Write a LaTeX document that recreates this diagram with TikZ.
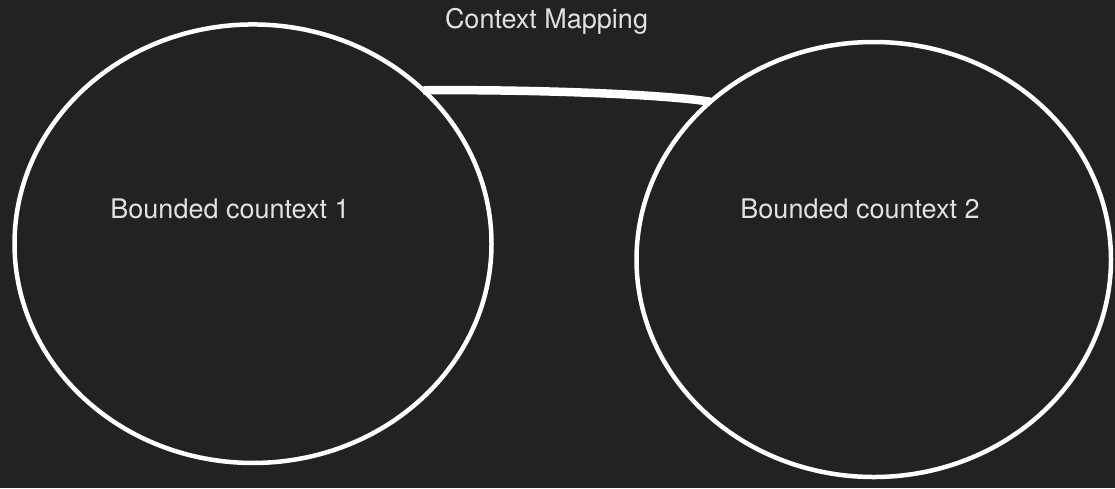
\documentclass[tikz,border=0pt]{standalone}
\usepackage{fontspec}
\setmainfont{TeX Gyre Heros}
\usetikzlibrary{shapes.geometric}
\definecolor{bg}{HTML}{222222}
\definecolor{txt}{HTML}{E2E2E2}
\tikzset{
  ctx/.style={ellipse, draw=white, line width=4.5pt, inner sep=0pt, outer sep=0pt},
  lbl/.style={text=txt, anchor=base, inner sep=0pt, font=\fontsize{27}{31}\selectfont},
  rel/.style={draw=white, line width=8.5pt}
}
\begin{document}
\begin{tikzpicture}[x=1pt,y=-1pt]
\fill[bg] (0,0) rectangle (1115,488);
\useasboundingbox (0,0) rectangle (1115,488);
\node[ctx, minimum width=477pt, minimum height=438.5pt] (e1) at (253,243.7) {};
\node[ctx, minimum width=474.5pt, minimum height=435pt] (e2) at (873.75,259.5) {};
\node[lbl] (t0) at (546.5,28) {Context Mapping};
\node[lbl] (t1) at (230,218.5) {Bounded countext 1};
\node[lbl] (t2) at (860,218.5) {Bounded countext 2};
\draw[rel] (e1.42.8) .. controls +(100,-1) and +(-50,-8) .. (e2.136.6);
\end{tikzpicture}
\end{document}
